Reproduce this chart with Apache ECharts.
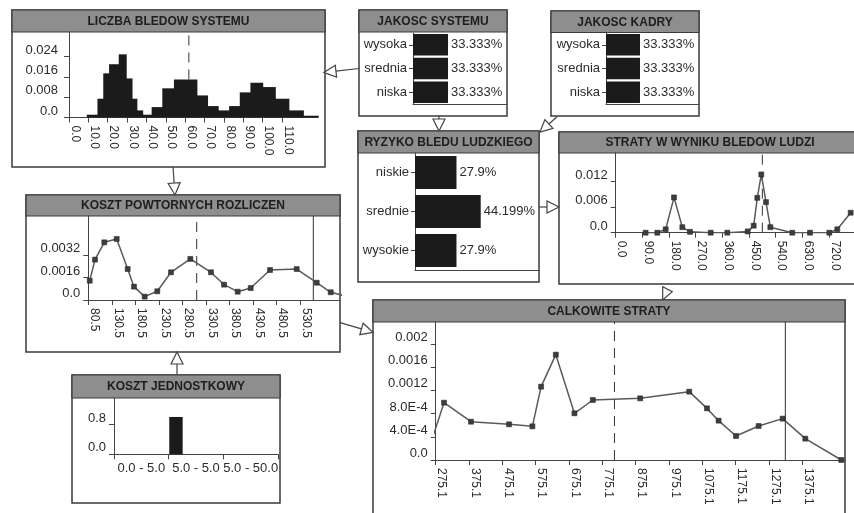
<!DOCTYPE html>
<html><head><meta charset="utf-8">
<script src="https://cdn.jsdelivr.net/npm/echarts@6/dist/echarts.min.js"></script>
<style>html,body{margin:0;padding:0;background:#fff}#c{width:854px;height:513px}</style>
</head><body><div id="c"></div>
<script>
// ---------- DATA ----------
// LICZBA BLEDOW SYSTEMU (histogram)
const liczbaEdges = [9.5, 15, 18, 21, 26, 29.5, 32.5, 35, 38, 43, 48.5, 54.5, 66, 71.5, 77, 83, 88.5, 94, 100, 106.5, 113.5, 121, 128.7];
const liczbaProb  = [0.0011, 0.0074, 0.0174, 0.0210, 0.0249, 0.0154, 0.0074, 0.0028, 0.0011, 0.0041, 0.0115, 0.0150, 0.0087, 0.0045, 0.0028, 0.0045, 0.0099, 0.0137, 0.0120, 0.0074, 0.0028, 0.0007];
const liczbaMean = 61.9;
const liczbaXTicks = [0, 10, 20, 30, 40, 50, 60, 70, 80, 90, 100, 110];
const liczbaXLabels = ['0.0','10.0','20.0','30.0','40.0','50.0','60.0','70.0','80.0','90.0','100.0','110.0'];
const liczbaYTicks = [0, 0.008, 0.016, 0.024];
const liczbaYLabels = ['0.0','0.008','0.016','0.024'];

// JAKOSC SYSTEMU / JAKOSC KADRY
const jakoscLevels = ['wysoka', 'srednia', 'niska'];
const jakoscSystemu = [33.333, 33.333, 33.333];
const jakoscKadry = [33.333, 33.333, 33.333];

// RYZYKO BLEDU LUDZKIEGO
const ryzykoLevels = ['niskie', 'srednie', 'wysokie'];
const ryzyko = [27.9, 44.199, 27.9];

// STRATY W WYNIKU BLEDOW LUDZI
const stratyX = [101, 140.5, 168.7, 196.8, 224.9, 250.8, 320.6, 376.7, 445.5, 465.7, 477.9, 491.4, 507.3, 521.9, 596, 655.8, 720.9, 748, 793];
const stratyY = [0, 0, 0.0008, 0.0083, 0.0013, 0.0002, 0, 0, 0.0003, 0.00165, 0.0082, 0.0137, 0.0072, 0.0013, 0, 0, 0, 0.0008, 0.0047];
const stratyMean = 494.9;
const stratyXTicks = [0, 90, 180, 270, 360, 450, 540, 630, 720];
const stratyXLabels = ['0.0','90.0','180.0','270.0','360.0','450.0','540.0','630.0','720.0'];
const stratyYTicks = [0, 0.006, 0.012];
const stratyYLabels = ['0.0','0.006','0.012'];

// KOSZT POWTORNYCH ROZLICZEN
const kosztX = [83.5, 94.7, 114.5, 140.8, 164.2, 177.6, 200.3, 227.1, 256.2, 297.3, 341.2, 368.9, 397.9, 425.6, 466.6, 523.3, 565.8, 595.6, 625];
const kosztY = [0.00137, 0.00287, 0.0041, 0.00434, 0.0022, 0.00095, 0.00024, 0.00062, 0.00197, 0.00292, 0.00197, 0.00109, 0.00059, 0.00085, 0.00213, 0.0022, 0.00123, 0.00055, 0.0003];
const kosztMean = 310.8;
const kosztLimit = 558.6;
const kosztXTicks = [80.5, 130.5, 180.5, 230.5, 280.5, 330.5, 380.5, 430.5, 480.5, 530.5];
const kosztXLabels = ['80.5','130.5','180.5','230.5','280.5','330.5','380.5','430.5','480.5','530.5'];
const kosztYTicks = [0, 0.0016, 0.0032];
const kosztYLabels = ['0.0','0.0016','0.0032'];

// KOSZT JEDNOSTKOWY
const jednCats = ['0.0 - 5.0', '5.0 - 5.0', '5.0 - 50.0'];
const jednVals = [0, 1.0, 0];
const jednYTicks = [0, 0.8];
const jednYLabels = ['0.0','0.8'];

// CALKOWITE STRATY
const calkX = [265, 300, 381, 495.2, 565.2, 591.3, 635.5, 691.3, 746.6, 888.6, 1035.7, 1088.9, 1123.8, 1176, 1243.9, 1315.9, 1383.9, 1492];
const calkY = [0.00037, 0.000988, 0.00066, 0.000615, 0.00058, 0.001264, 0.001816, 0.000805, 0.001034, 0.001063, 0.001178, 0.00089, 0.000678, 0.000414, 0.000586, 0.000713, 0.000368, 0];
const calkMean = 811.4;
const calkLimit = 1324;
const calkXTicks = [275.1, 375.1, 475.1, 575.1, 675.1, 775.1, 875.1, 975.1, 1075.1, 1175.1, 1275.1, 1375.1];
const calkXLabels = ['275.1','375.1','475.1','575.1','675.1','775.1','875.1','975.1','1075.1','1175.1','1275.1','1375.1'];
const calkYTicks = [0, 0.0004, 0.0008, 0.0012, 0.0016, 0.002];
const calkYLabels = ['0.0','4.0E-4','8.0E-4','0.0012','0.0016','0.002'];

// ---------- STYLE / HELPERS ----------
const FONT = '"Liberation Sans", Arial, sans-serif';
const TXT = '#2b2b2b';
const AX = '#444';
const LINEC = '#5a5a5a';
const BAR = '#1b1b1b';

function nearestLabel(ticks, labels, v) {
  let bi = 0, bd = Infinity;
  ticks.forEach((t, i) => { const d = Math.abs(t - v); if (d < bd) { bd = d; bi = i; } });
  return labels[bi];
}
function xValueAxis(gi, min, max, ticks, labels) {
  return {
    type: 'value', gridIndex: gi, min: min, max: max, position: 'bottom',
    axisLine: { show: true, onZero: false, lineStyle: { color: AX, width: 1 } },
    axisTick: { show: true, customValues: ticks, length: 5, lineStyle: { color: AX } },
    axisLabel: { show: true, customValues: ticks, rotate: -90, align: 'left', verticalAlign: 'bottom',
      margin: 8, fontSize: 12, fontFamily: FONT, color: TXT,
      formatter: v => nearestLabel(ticks, labels, v) },
    splitLine: { show: false }
  };
}
function yValueAxis(gi, min, max, ticks, labels, margin) {
  return {
    type: 'value', gridIndex: gi, min: min, max: max,
    axisLine: { show: true, onZero: false, lineStyle: { color: AX, width: 1 } },
    axisTick: { show: true, customValues: ticks, length: 5, lineStyle: { color: AX } },
    axisLabel: { show: true, customValues: ticks, verticalAlign: 'bottom', margin: margin || 8,
      fontSize: 13, fontFamily: FONT, color: TXT,
      formatter: v => nearestLabel(ticks, labels, v) },
    splitLine: { show: false }
  };
}
function barXAxis(gi, max) {
  return { type: 'value', gridIndex: gi, min: 0, max: max,
    axisLine: { show: true, onZero: false, lineStyle: { color: AX, width: 1 } },
    axisTick: { show: false }, axisLabel: { show: false }, splitLine: { show: false } };
}
function catYAxis(gi, cats) {
  return { type: 'category', gridIndex: gi, data: cats, inverse: true,
    axisLine: { show: true, lineStyle: { color: AX, width: 1 } },
    axisTick: { show: true, alignWithLabel: true, length: 4, lineStyle: { color: AX } },
    axisLabel: { margin: 6, fontSize: 13, fontFamily: FONT, color: TXT },
    splitLine: { show: false } };
}
function hbar(gi, vals, width) {
  return { type: 'bar', xAxisIndex: gi, yAxisIndex: gi, data: vals, barWidth: width,
    itemStyle: { color: BAR },
    label: { show: true, position: 'right', distance: 3, fontSize: 13, fontFamily: FONT, color: TXT,
      formatter: p => p.value + '%' } };
}
function lineSeries(gi, xs, ys) {
  return { type: 'line', xAxisIndex: gi, yAxisIndex: gi, data: xs.map((x, i) => [x, ys[i]]),
    symbol: 'rect', symbolSize: 5, showAllSymbol: true, clip: true, z: 3,
    lineStyle: { color: LINEC, width: 1.5 }, itemStyle: { color: '#3d3d3d', borderColor: '#222', borderWidth: 0.5 } };
}
function vMarker(gi, x, y0, y1, dashed) {
  return { type: 'line', xAxisIndex: gi, yAxisIndex: gi, data: [[x, y0], [x, y1]], symbol: 'none', z: 1,
    lineStyle: { color: '#333', width: 1, type: dashed ? [10, 7] : 'solid' } };
}

const yMax = { liczba: 0.0337, straty: 0.01875, koszt: 0.005973, jedn: 1.5, calk: 0.002384 };

// ---------- BOXES & ARROWS ----------
const boxes = [
  { x: 12,  y: 10,  w: 313, h: 157, th: 22,   t: 'LICZBA BLEDOW SYSTEMU' },
  { x: 359, y: 10,  w: 148, h: 106, th: 22,   t: 'JAKOSC SYSTEMU' },
  { x: 551, y: 11,  w: 148, h: 105, th: 21.5, t: 'JAKOSC KADRY' },
  { x: 358, y: 131, w: 181, h: 151, th: 22,   t: 'RYZYKO BLEDU LUDZKIEGO' },
  { x: 559, y: 132, w: 302, h: 152, th: 21,   t: 'STRATY W WYNIKU BLEDOW LUDZI' },
  { x: 26,  y: 195, w: 314, h: 157, th: 21,   t: 'KOSZT POWTORNYCH ROZLICZEN' },
  { x: 72,  y: 375, w: 208, h: 128, th: 23,   t: 'KOSZT JEDNOSTKOWY' },
  { x: 373, y: 300, w: 472, h: 240, th: 22,   t: 'CALKOWITE STRATY' }
];
const graphics = [];
boxes.forEach(b => {
  graphics.push({ type: 'rect', z: -10, shape: { x: b.x, y: b.y, width: b.w, height: b.h },
    style: { fill: '#fff', stroke: '#3a3a3a', lineWidth: 1.5 } });
  graphics.push({ type: 'rect', z: -9, shape: { x: b.x, y: b.y, width: b.w, height: b.th },
    style: { fill: '#8e8e8e', stroke: '#3a3a3a', lineWidth: 1.2 } });
  graphics.push({ type: 'text', z: 50, style: { text: b.t, x: b.x + b.w / 2, y: b.y + b.th / 2 + 0.5,
    align: 'center', verticalAlign: 'middle', textAlign: 'center', textVerticalAlign: 'middle',
    font: 'bold 12px ' + FONT, fill: '#1e1e1e' } });
});
function arrow(x1, y1, x2, y2) {
  const len = 12, hw = 6;
  const dx = x2 - x1, dy = y2 - y1, L = Math.hypot(dx, dy), ux = dx / L, uy = dy / L;
  const bx = x2 - ux * len, by = y2 - uy * len, px = -uy, py = ux;
  graphics.push({ type: 'line', z: 40, shape: { x1: x1, y1: y1, x2: bx, y2: by }, style: { stroke: '#444', lineWidth: 1.2 } });
  graphics.push({ type: 'polygon', z: 41, shape: { points: [[x2, y2], [bx + px * hw, by + py * hw], [bx - px * hw, by - py * hw]] },
    style: { fill: '#fff', stroke: '#444', lineWidth: 1.2 } });
}
arrow(359, 68.5, 324, 72.5);
arrow(173, 167, 175, 195);
arrow(439, 116, 439, 131);
arrow(557, 116.7, 540, 132);
arrow(539, 207, 559, 207);
arrow(340, 322.7, 373, 332.3);
arrow(177, 375, 177, 352);
graphics.push({ type: 'polygon', z: 41, shape: { points: [[662.7, 286.7], [662.7, 300], [672.3, 291.7]] },
  style: { fill: '#fff', stroke: '#444', lineWidth: 1.2 } });

// ---------- CHART ----------
const G = (l, t, w, h) => ({ left: l, top: t, width: w, height: h, outerBoundsMode: 'none', containLabel: false });
const option = {
  animation: false,
  backgroundColor: '#fff',
  textStyle: { fontFamily: FONT },
  grid: [
    G(69, 32, 249, 85.5),      // 0 liczba
    G(413, 33, 94, 71),        // 1 jakosc systemu
    G(606, 33, 93, 71),        // 2 jakosc kadry
    G(415, 153, 124, 117),     // 3 ryzyko
    G(615.7, 153, 300, 79.7),  // 4 straty
    G(88.3, 216, 251.7, 84),   // 5 koszt powt
    G(114, 398.3, 164, 56),    // 6 koszt jedn
    G(435.7, 321.7, 409.3, 138.3) // 7 calkowite
  ],
  xAxis: [
    xValueAxis(0, 0, 128.6, liczbaXTicks, liczbaXLabels),
    barXAxis(1, 89.5),
    barXAxis(2, 91.2),
    barXAxis(3, 83.4),
    xValueAxis(4, 0, 1012.5, stratyXTicks, stratyXLabels),
    xValueAxis(5, 80.5, 615.3, kosztXTicks, kosztXLabels),
    { type: 'category', gridIndex: 6, data: jednCats, boundaryGap: true,
      axisLine: { show: true, onZero: false, lineStyle: { color: AX, width: 1 } },
      axisTick: { show: true, length: 5, lineStyle: { color: AX } },
      axisLabel: { margin: 8, fontSize: 13, fontFamily: FONT, color: TXT, interval: 0 },
      splitLine: { show: false } },
    xValueAxis(7, 275.1, 1503, calkXTicks, calkXLabels)
  ],
  yAxis: [
    yValueAxis(0, 0, yMax.liczba, liczbaYTicks, liczbaYLabels, 11),
    catYAxis(1, jakoscLevels),
    catYAxis(2, jakoscLevels),
    catYAxis(3, ryzykoLevels),
    yValueAxis(4, 0, yMax.straty, stratyYTicks, stratyYLabels),
    yValueAxis(5, 0, yMax.koszt, kosztYTicks, kosztYLabels),
    yValueAxis(6, 0, yMax.jedn, jednYTicks, jednYLabels),
    yValueAxis(7, 0, yMax.calk, calkYTicks, calkYLabels)
  ],
  series: [
    { type: 'custom', xAxisIndex: 0, yAxisIndex: 0, z: 2,
      data: liczbaProb.map((p, i) => [liczbaEdges[i], liczbaEdges[i + 1], p]),
      encode: { x: [0, 1], y: 2 },
      renderItem: (params, api) => {
        const a = api.coord([api.value(0), 0]);
        const b = api.coord([api.value(1), api.value(2)]);
        return { type: 'rect', shape: { x: a[0] - 0.6, y: b[1], width: b[0] - a[0] + 1.2, height: a[1] - b[1] },
          style: { fill: BAR, stroke: null, lineWidth: 0 } };
      } },
    vMarker(0, liczbaMean, liczbaProb[11], yMax.liczba, true),
    hbar(1, jakoscSystemu, 21.5),
    hbar(2, jakoscKadry, 21.5),
    hbar(3, ryzyko, 33),
    vMarker(4, stratyMean, 0, yMax.straty, true),
    lineSeries(4, stratyX, stratyY),
    vMarker(5, kosztMean, 0, yMax.koszt, true),
    vMarker(5, kosztLimit, 0, yMax.koszt, false),
    lineSeries(5, kosztX, kosztY),
    { type: 'custom', xAxisIndex: 6, yAxisIndex: 6, z: 2,
      data: jednVals.map((v, i) => [i, v]),
      encode: { x: 0, y: 1 },
      renderItem: (params, api) => {
        const v = api.value(1);
        if (!v) return null;
        const c = api.coord([api.value(0), v]);
        const base = api.coord([api.value(0), 0]);
        const bw = api.size([1, 0])[0];
        const x0 = c[0] - bw / 2 + 0.6;
        return { type: 'rect', shape: { x: x0, y: c[1], width: bw * 0.245, height: base[1] - c[1] },
          style: { fill: BAR } };
      } },
    vMarker(7, calkMean, 0, yMax.calk, true),
    vMarker(7, calkLimit, 0, yMax.calk, false),
    lineSeries(7, calkX, calkY)
  ],
  graphic: { elements: graphics }
};
const chart = echarts.init(document.getElementById('c'), null, { renderer: 'canvas' });
chart.setOption(option);
</script></body></html>
